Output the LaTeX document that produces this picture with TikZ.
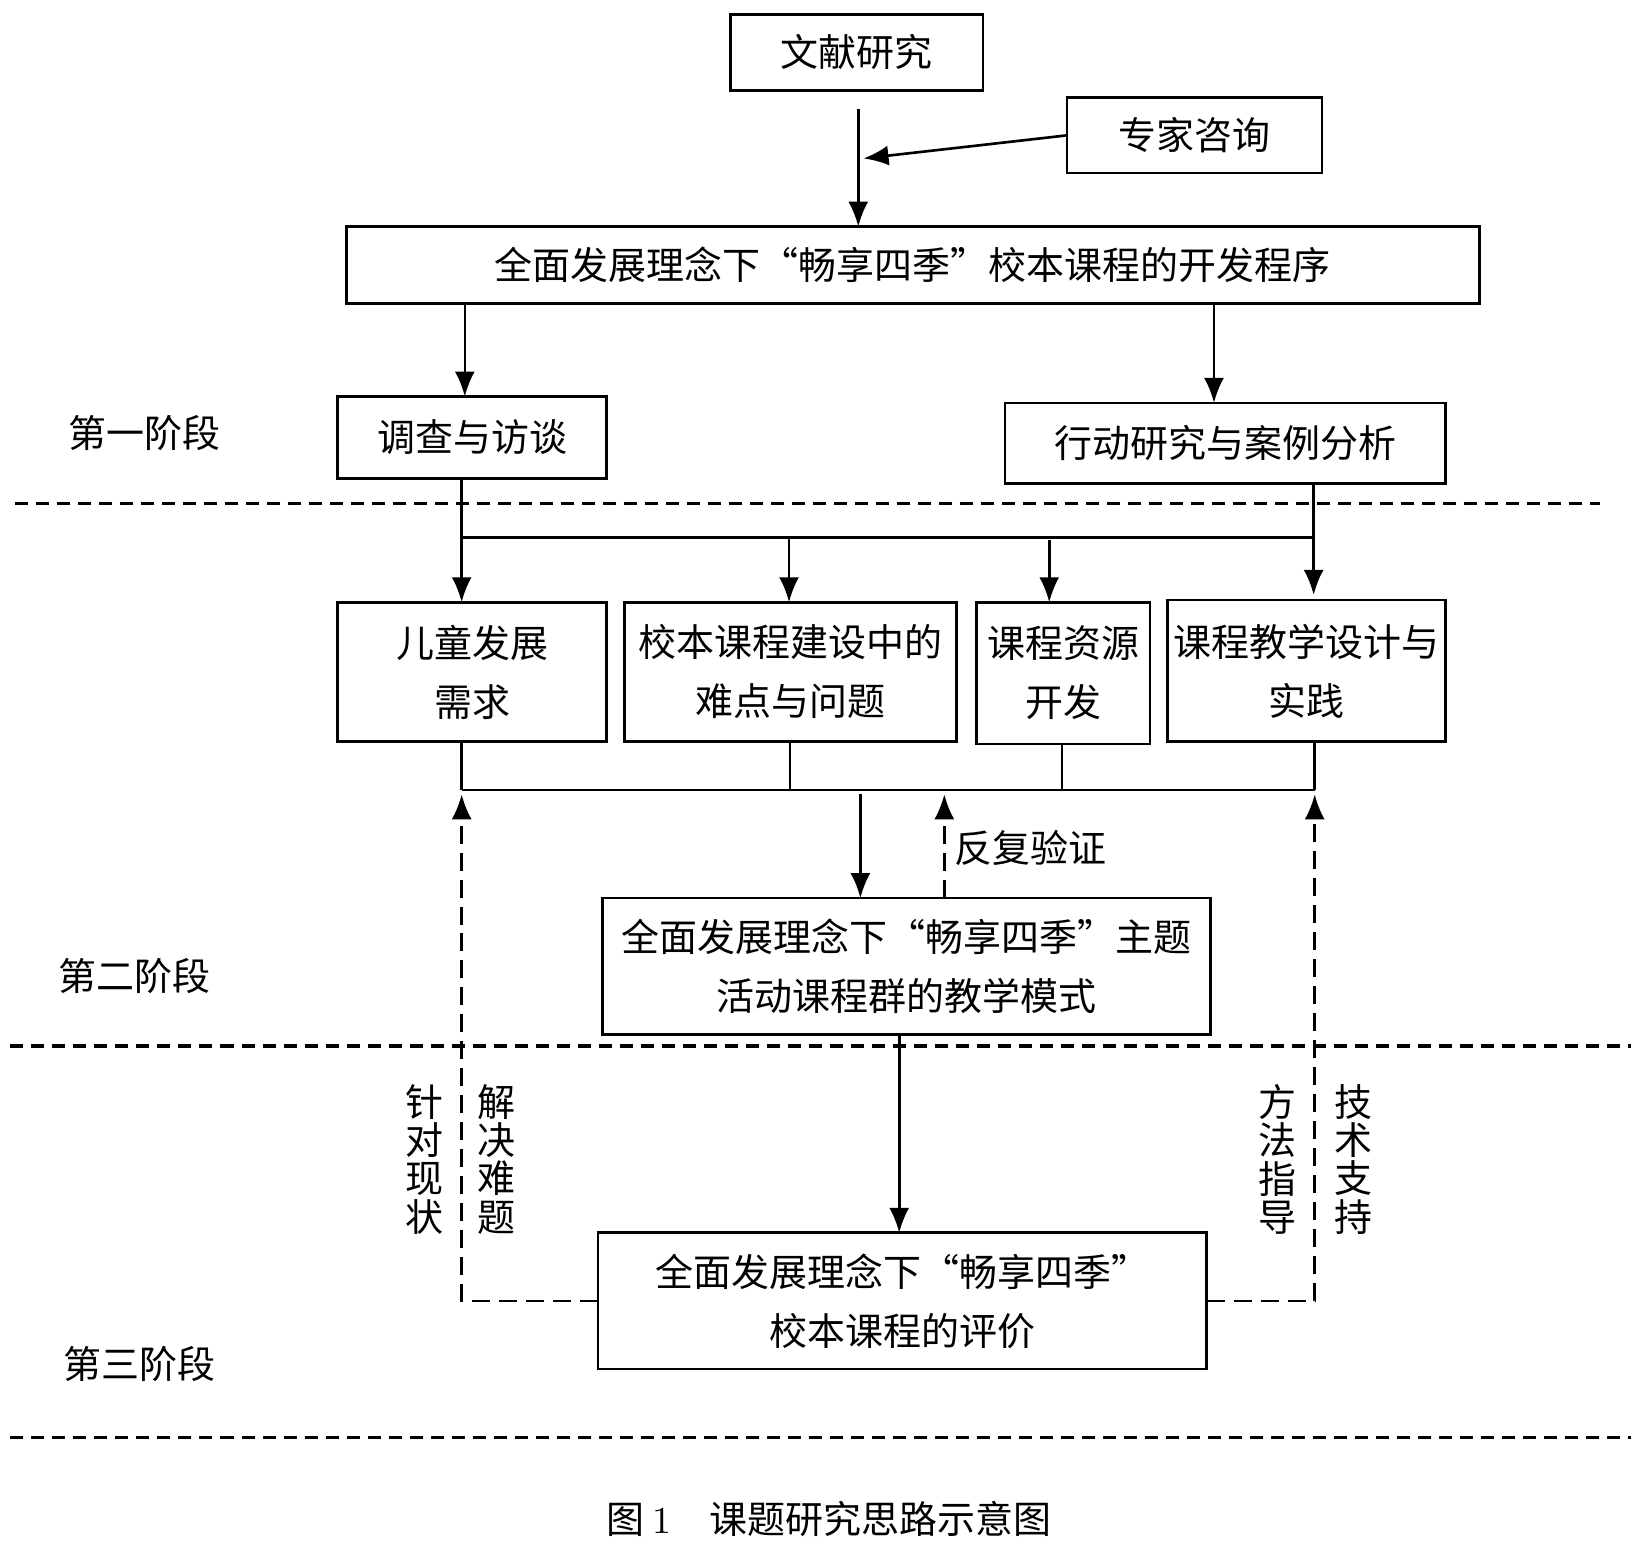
\documentclass[tikz,border=0pt]{standalone}
\usepackage{fontspec}
\newfontfamily\cjk{Noto Sans CJK SC}
\usetikzlibrary{arrows.meta}

\begin{document}
\begin{tikzpicture}[scale=1.0491, every node/.style={transform shape, font=\cjk\fontsize{10.3pt}{16pt}\selectfont, inner sep=0pt, outer sep=0pt},
box/.style={draw, line width=0.75pt, align=center},
arr/.style={-{Latex[length=0.25cm,width=0.2cm]}, line width=0.75pt},
fb/.style={line width=0.6pt, dash pattern=on 0.18cm off 0.09cm},
stage/.style={line width=1pt, dash pattern=on 0.13cm off 0.08cm},
vtext/.style={align=center, font=\cjk\fontsize{10.3pt}{10.4pt}\selectfont}]
\useasboundingbox (0,0) rectangle (15.68,-14.717);

\node[box, minimum width=2.41cm, minimum height=0.72cm] (wx) at (8.165,-0.50) {文献研究};
\node[box, minimum width=2.43cm, minimum height=0.72cm] (zj) at (11.385,-1.29) {专家咨询};
\node[box, minimum width=10.80cm, minimum height=0.73cm] (kf) at (8.70,-2.525) {全面发展理念下“畅享四季”校本课程的开发程序};
\node[box, minimum width=2.56cm, minimum height=0.78cm] (dc) at (4.50,-4.17) {调查与访谈};
\node[box, minimum width=4.20cm, minimum height=0.77cm] (xd) at (11.68,-4.225) {行动研究与案例分析};

\node[box, minimum width=2.56cm, minimum height=1.33cm] (et) at (4.50,-6.405) {儿童发展\\需求};
\node[box, minimum width=3.17cm, minimum height=1.33cm] (nd) at (7.535,-6.405) {校本课程建设中的\\难点与问题};
\node[box, minimum width=1.65cm, minimum height=1.35cm] (zy) at (10.135,-6.415) {课程资源\\开发};
\node[box, minimum width=2.65cm, minimum height=1.35cm] (jx) at (12.455,-6.395) {课程教学设计与\\实践};

\node[box, minimum width=5.80cm, minimum height=1.30cm] (ms) at (8.64,-9.21) {全面发展理念下“畅享四季”主题\\活动课程群的教学模式};
\node[box, minimum width=5.80cm, minimum height=1.30cm] (pj) at (8.60,-12.40) {全面发展理念下“畅享四季”\\校本课程的评价};

\node (s1) at (1.38,-4.13) {第一阶段};
\node (s2) at (1.28,-9.30) {第二阶段};
\node (s3) at (1.33,-13.00) {第三阶段};

\node[anchor=west] (fy) at (9.10,-8.08) {反复验证};
\node[vtext] (zd) at (4.05,-11.05) {针\\对\\现\\状};
\node[vtext] (jj) at (4.73,-11.05) {解\\决\\难\\题};
\node[vtext] (ff) at (12.18,-11.05) {方\\法\\指\\导};
\node[vtext] (js) at (12.90,-11.05) {技\\术\\支\\持};

\node (cap) at (7.90,-14.48) {图 {\rmfamily 1}\quad 课题研究思路示意图};

\coordinate (w1) at (8.18,-1.04);
\coordinate (w2) at (8.23,-1.51);
\coordinate (k1) at (4.43,0);
\coordinate (k2) at (11.57,0);
\coordinate (t1) at (4.40,-5.12);
\coordinate (t2) at (7.52,-5.12);
\coordinate (t3) at (10.00,-5.15);
\coordinate (t4) at (12.52,-5.12);
\coordinate (b1) at (4.40,-7.53);
\coordinate (b2) at (7.53,-7.53);
\coordinate (b3) at (10.12,-7.53);
\coordinate (b4) at (12.53,-7.53);
\coordinate (m1) at (8.20,-7.57);
\coordinate (m2) at (9.00,-7.57);
\coordinate (m3) at (8.57,-9.87);
\coordinate (l1) at (4.40,-7.57);
\coordinate (r1) at (12.53,-7.57);

\draw[arr] (w1) -- (w1 |- kf.north);
\draw[arr] (zj.west) -- (w2);
\draw[arr] (kf.south -| k1) -- (k1 |- dc.north);
\draw[arr] (kf.south -| k2) -- (k2 |- xd.north);

\draw[line width=0.75pt] (t1) -- (t4);
\draw[arr] (dc.south -| t1) -- (t1 |- et.north);
\draw[arr] (xd.south -| t4) -- ([yshift=0.05cm]t4 |- jx.north);
\draw[arr] (t2) -- (t2 |- nd.north);
\draw[arr] (t3) -- (t3 |- zy.north);

\draw[line width=0.75pt] (et.south -| b1) -- (b1);
\draw[line width=0.75pt] (nd.south -| b2) -- (b2);
\draw[line width=0.75pt] (zy.south -| b3) -- (b3);
\draw[line width=0.75pt] (jx.south -| b4) -- (b4);
\draw[line width=0.75pt] (b1) -- (b4);

\draw[arr] (m1) -- (m1 |- ms.north);
\draw[fb, arr] (m2 |- ms.north) -- (m2);
\draw[arr] (ms.south -| m3) -- (m3 |- pj.north);

\draw[fb, arr] (pj.west) -| (l1);
\draw[fb, arr] (pj.east) -| (r1);

\draw[stage] (0.14,-4.80) -- (15.25,-4.80);
\draw[stage] (0.10,-9.97) -- (15.55,-9.97);
\draw[stage] (0.10,-13.70) -- (15.55,-13.70);
\end{tikzpicture}
\end{document}
